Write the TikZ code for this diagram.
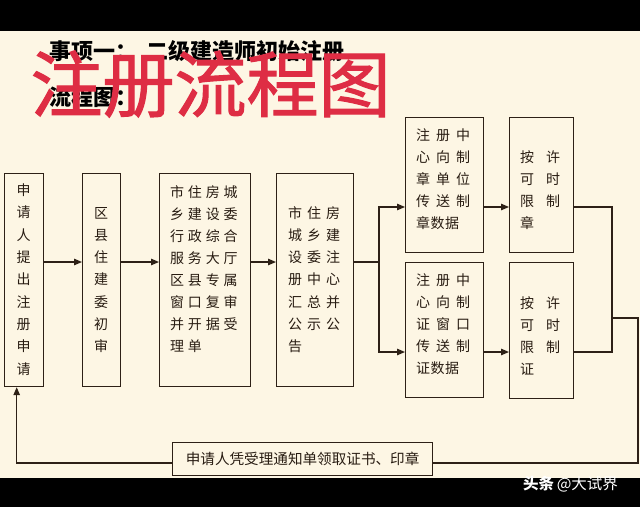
\documentclass[tikz,border=0pt]{standalone}
\usepackage{fontspec}
\newfontfamily\cjk{Noto Sans CJK SC}
\newfontfamily\cjkred[FakeBold=1.5]{Noto Sans CJK SC}
\usetikzlibrary{arrows.meta}
\definecolor{bgbeige}{RGB}{253,246,228}
\definecolor{inkc}{RGB}{40,28,18}
\definecolor{linec}{RGB}{45,32,22}
\definecolor{redc}{RGB}{222,45,68}
\def\cjkspacedloop#1{\ifx#1\relax\else\makebox[\cjkcw][l]{#1}\expandafter\cjkspacedloop\fi}
\newcommand\crow[2]{\def\cjkcw{#1}\cjkspacedloop#2\relax}
\begin{document}
\begin{tikzpicture}[x=1pt,y=-1pt,
  box/.style={draw=linec, line width=1.2pt, inner sep=0pt, anchor=north west},
  btext/.style={inner sep=0pt, text=inkc, font=\cjk\fontsize{14pt}{22pt}\selectfont},
  ln/.style={draw=linec, line width=1.2pt},
  arr/.style={ln, -{Triangle[length=8pt,width=6.5pt]}}]
\useasboundingbox (0,0) rectangle (640,507);
\fill[black] (0,0) rectangle (640,507);
\fill[bgbeige] (0,31) rectangle (640,478);

% titles
\node[anchor=west, inner sep=0pt, text=black, font=\cjk\bfseries\fontsize{22pt}{22pt}\selectfont] (title) at (49,51) {事项一：\hspace{9pt}二级建造师初始注册};
\node[anchor=west, inner sep=0pt, text=black, font=\cjk\bfseries\fontsize{22pt}{22pt}\selectfont] (sub) at (49,97) {流程图：};
\node[inner sep=0pt, text=redc, font=\cjkred\fontsize{72pt}{72pt}\selectfont] (redtitle) at (210.5,84) {注册流程图};

% boxes
\node[box, minimum width=39pt, minimum height=213pt] (b1) at (4,173) {};
\node[box, minimum width=38pt, minimum height=213pt] (b2) at (82,173) {};
\node[box, minimum width=91pt, minimum height=213pt] (b3) at (159,173) {};
\node[box, minimum width=77pt, minimum height=213pt] (b4) at (276,173) {};
\node[box, minimum width=78pt, minimum height=135pt] (b5) at (405,117) {};
\node[box, minimum width=64pt, minimum height=135pt] (b6) at (509,117) {};
\node[box, minimum width=78pt, minimum height=135pt] (b5b) at (405,262) {};
\node[box, minimum width=64pt, minimum height=136pt] (b6b) at (509,262) {};
\node[box, minimum width=260pt, minimum height=33pt] (nb) at (172,442) {};

% box texts
\node[btext, align=center, font=\cjk\fontsize{14pt}{22.3pt}\selectfont] (t1) at (23.5,279.5) {申\\请\\人\\提\\出\\注\\册\\申\\请};
\node[btext, align=center, font=\cjk\fontsize{14pt}{22.3pt}\selectfont] (t2) at (101,280) {区\\县\\住\\建\\委\\初\\审};
\node[btext, align=left, anchor=north west] (t3) at (170,185) {\crow{17.8pt}{市住房城}\\\crow{17.8pt}{乡建设委}\\\crow{17.8pt}{行政综合}\\\crow{17.8pt}{服务大厅}\\\crow{17.8pt}{区县专属}\\\crow{17.8pt}{窗口复审}\\\crow{17.8pt}{并开据受}\\\crow{17.8pt}{理单}};
\node[btext, align=left, anchor=north west, font=\cjk\fontsize{14pt}{22.3pt}\selectfont] (t4) at (288,206) {\crow{19pt}{市住房}\\\crow{19pt}{城乡建}\\\crow{19pt}{设委注}\\\crow{19pt}{册中心}\\\crow{19pt}{汇总并}\\\crow{19pt}{公示公}\\\crow{19pt}{告}};
\node[btext, align=left, anchor=north west] (t5) at (416,128) {\crow{20pt}{注册中}\\\crow{20pt}{心向制}\\\crow{20pt}{章单位}\\\crow{20pt}{传送制}\\\crow{14.5pt}{章数据}};
\node[btext, align=left, anchor=north west] (t5b) at (416,273) {\crow{20pt}{注册中}\\\crow{20pt}{心向制}\\\crow{20pt}{证窗口}\\\crow{20pt}{传送制}\\\crow{14.5pt}{证数据}};
\node[btext, align=left, anchor=north west] (t6) at (520,150) {\crow{13pt}{按~许}\\\crow{13pt}{可~时}\\\crow{13pt}{限~制}\\\crow{13pt}{章}};
\node[btext, align=left, anchor=north west] (t6b) at (520,296) {\crow{13pt}{按~许}\\\crow{13pt}{可~时}\\\crow{13pt}{限~制}\\\crow{13pt}{证}};
\node[btext, font=\cjk\fontsize{14.6pt}{14.6pt}\selectfont] (tn) at (nb.center) {申请人凭受理通知单领取证书、印章};

% connector helpers
\coordinate (ya) at (0,262);
\coordinate (yt) at (0,207);
\coordinate (yb) at (0,352);
\coordinate (br) at (379,262);
\coordinate (rj) at (612,0);
\coordinate (mj) at (612,318);
\coordinate (rr) at (638,318);
\coordinate (rb) at (638,463);
\coordinate (lx) at (16.7,463);

\draw[arr] (b1.east |- ya) -- (b2.west |- ya);
\draw[arr] (b2.east |- ya) -- (b3.west |- ya);
\draw[arr] (b3.east |- ya) -- (b4.west |- ya);
\draw[ln] (b4.east |- ya) -- (br);
\draw[arr] (br) |- (b5.west |- yt);
\draw[arr] (br) |- (b5b.west |- yb);
\draw[arr] (b5.east |- yt) -- (b6.west |- yt);
\draw[arr] (b5b.east |- yb) -- (b6b.west |- yb);
\draw[ln] (b6.east |- yt) -| (rj |- yb) -- (b6b.east |- yb);
\draw[ln] (mj) -- (rr) -- (rb) -- (nb.east |- rb);
\draw[arr] (nb.west |- rb) -- (lx) -- (lx |- b1.south);

% watermark
\node[anchor=west, inner sep=0pt, text=white, font=\cjk\fontsize{15.5pt}{15.5pt}\selectfont] (wm) at (523,484) {{\bfseries 头条}\,@大试界};
\end{tikzpicture}
\end{document}
